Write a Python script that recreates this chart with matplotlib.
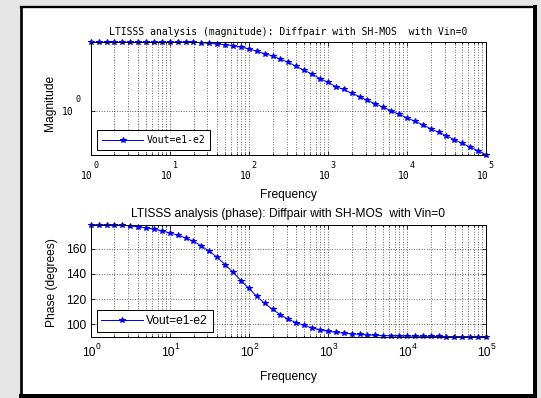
import numpy as np
import matplotlib
matplotlib.use('Agg')
import matplotlib.pyplot as plt
from matplotlib.ticker import LogLocator, NullLocator, NullFormatter, FixedLocator
from matplotlib.lines import Line2D

# frequency points: 10 per decade from 10^0 to 10^5
freqExp = [i / 10.0 for i in range(51)]
freq = [10.0 ** e for e in freqExp]

magnitude = [7.22, 7.22, 7.22, 7.22, 7.22, 7.22, 7.22, 7.22, 7.22, 7.22,
             7.22, 7.22, 7.22, 7.22, 7.14, 7.02, 6.88, 6.74, 6.55, 6.31,
             5.96, 5.58, 5.20, 4.87, 4.43, 4.06, 3.60, 3.22, 2.88, 2.53,
             2.28, 2.01, 1.85, 1.66, 1.51, 1.35, 1.22, 1.11, 1.00, 0.904,
             0.818, 0.739, 0.668, 0.596, 0.538, 0.487, 0.434, 0.392, 0.350, 0.316,
             0.282]

phase = [179.3, 179.3, 179.2, 179.1, 178.9, 178.4, 177.6, 176.8, 175.7, 174.4,
         172.8, 170.9, 168.8, 166.1, 162.4, 158.1, 153.3, 147.4, 141.5, 134.8,
         128.6, 122.2, 116.6, 111.8, 107.5, 103.9, 101.2, 99.0, 97.1, 95.6,
         94.4, 93.5, 92.8, 92.2, 91.8, 91.4, 91.1, 90.9, 90.7, 90.6,
         90.45, 90.36, 90.29, 90.23, 90.18, 90.14, 90.11, 90.09, 90.07, 90.05,
         90.0]

decades = [0, 1, 2, 3, 4, 5]
phaseTicks = [100, 120, 140, 160]
seriesName = 'Vout=e1-e2'
titleMag = 'LTISSS analysis (magnitude): Diffpair with SH-MOS  with Vin=0'
titlePhase = 'LTISSS analysis (phase): Diffpair with SH-MOS  with Vin=0'

W, H = 541, 398
MONO = 'DejaVu Sans Mono'
SANS = 'Liberation Sans'


def pxRect(x0, y0, x1, y1):
    # pixel box (top-left origin) -> figure fraction [l, b, w, h]
    return [x0 / W, 1 - y1 / H, (x1 - x0) / W, (y1 - y0) / H]


def styleAxes(ax):
    ax.set_xscale('log')
    ax.set_xlim(1, 1e5)
    ax.xaxis.set_major_locator(LogLocator(base=10, numticks=10))
    ax.xaxis.set_minor_locator(LogLocator(base=10, subs=np.arange(2, 10), numticks=20))
    ax.xaxis.set_major_formatter(NullFormatter())
    ax.xaxis.set_minor_formatter(NullFormatter())
    ax.tick_params(which='both', direction='in', top=True, right=True, width=0.8)
    ax.tick_params(which='major', length=4)
    ax.tick_params(which='minor', length=2)
    ax.grid(True, which='both', axis='x', linestyle=(0, (1, 2.2)), color='#222222', lw=0.8)
    ax.grid(True, which='major', axis='y', linestyle=(0, (1, 2.2)), color='#222222', lw=0.8)
    for s in ax.spines.values():
        s.set_linewidth(1.0)


def decadeLabels(ax, fam, size, expSize, off10, offExp):
    for k in decades:
        ax.annotate('10', xy=(10.0 ** k, 0), xycoords=('data', 'axes fraction'),
                    xytext=off10, textcoords='offset points', ha='center', va='center',
                    family=fam, fontsize=size)
        ax.annotate(str(k), xy=(10.0 ** k, 0), xycoords=('data', 'axes fraction'),
                    xytext=offExp, textcoords='offset points', ha='center', va='center',
                    family=fam, fontsize=expSize)


fig = plt.figure(figsize=(W / 72.0, H / 72.0), dpi=72, facecolor='#e6e6e6')

# white frame
fig.add_artist(plt.Rectangle((21.3 / W, 1 - 396 / H), (534.7 - 21.3) / W, (396 - 7.2) / H,
                             transform=fig.transFigure, facecolor='white', edgecolor='none', zorder=-2))
for xs, ys, lw in [((21.3, 534.7), (7.2, 7.2), 2.3), ((21.3, 21.3), (7.2, 396), 2.7),
                   ((534.7, 534.7), (7.2, 396), 4), ((21.3, 534.7), (396, 396), 4)]:
    fig.add_artist(Line2D([x / W for x in xs], [1 - y / H for y in ys], transform=fig.transFigure,
                          color='black', lw=lw, solid_capstyle='projecting'))

############### magnitude
ax1 = fig.add_axes(pxRect(90.7, 42.3, 486, 154.7))
ax1.plot(freq, magnitude, '-', color='#0000ff', lw=1, marker='*', ms=5.5, label=seriesName, clip_on=False)
styleAxes(ax1)
ax1.set_yscale('log')
ax1.set_ylim(min(magnitude), max(magnitude))
ax1.yaxis.set_major_locator(FixedLocator([1.0]))
ax1.yaxis.set_minor_locator(NullLocator())
ax1.yaxis.set_major_formatter(NullFormatter())
ax1.set_title(titleMag, family=MONO, fontsize=9.75, pad=7)
ax1.set_xlabel('Frequency', family=SANS, fontsize=12)
ax1.xaxis.label.set_va('center')
ax1.xaxis.set_label_coords(0.5, -0.36)
ax1.set_ylabel('Magnitude', family=SANS, fontsize=12)
ax1.yaxis.label.set_va('center')
ax1.yaxis.set_label_coords(-0.103, 0.464)
decadeLabels(ax1, MONO, 9.75, 8.5, (-3.5, -21.5), (5, -10.5))
ax1.annotate('10', xy=(0, 1.0), xycoords=('axes fraction', 'data'), xytext=(-23, -1),
             textcoords='offset points', ha='center', va='center', family=MONO, fontsize=9.75)
ax1.annotate('0', xy=(0, 1.0), xycoords=('axes fraction', 'data'), xytext=(-13, 11),
             textcoords='offset points', ha='center', va='center', family=MONO, fontsize=8.5)
leg1 = ax1.legend(loc='lower left', bbox_to_anchor=(0.0167, 0.042), borderaxespad=0,
                  prop={'family': MONO, 'size': 9.75}, handlelength=4.2, handletextpad=0.35,
                  borderpad=0.5, fancybox=False, framealpha=1, edgecolor='black')
leg1.get_frame().set_linewidth(1.0)

############### phase
ax2 = fig.add_axes(pxRect(90.7, 224.7, 486, 336.7))
ax2.plot(freq, phase, '-', color='#0000ff', lw=1, marker='*', ms=5.5, label=seriesName, clip_on=False)
styleAxes(ax2)
ax2.set_ylim(min(phase), max(phase))
ax2.set_yticks(phaseTicks)
ax2.tick_params(axis='y', labelsize=12, pad=4)
for t in ax2.get_yticklabels():
    t.set_family(SANS)
ax2.set_title(titlePhase, family=SANS, fontsize=12, pad=8)
ax2.set_xlabel('Frequency', family=SANS, fontsize=12)
ax2.xaxis.label.set_va('center')
ax2.xaxis.set_label_coords(0.5, -0.36)
ax2.set_ylabel('Phase (degrees)', family=SANS, fontsize=12)
ax2.yaxis.label.set_va('center')
ax2.yaxis.set_label_coords(-0.098, 0.483)
decadeLabels(ax2, SANS, 12, 8.5, (-2, -16), (7, -10))
leg2 = ax2.legend(loc='lower left', bbox_to_anchor=(0.015, 0.045), borderaxespad=0,
                  prop={'family': SANS, 'size': 12}, handlelength=3.5, handletextpad=0.25,
                  borderpad=0.4, fancybox=False, framealpha=1, edgecolor='black')
leg2.get_frame().set_linewidth(1.0)

fig.savefig('out.png', dpi=72, facecolor=fig.get_facecolor())
